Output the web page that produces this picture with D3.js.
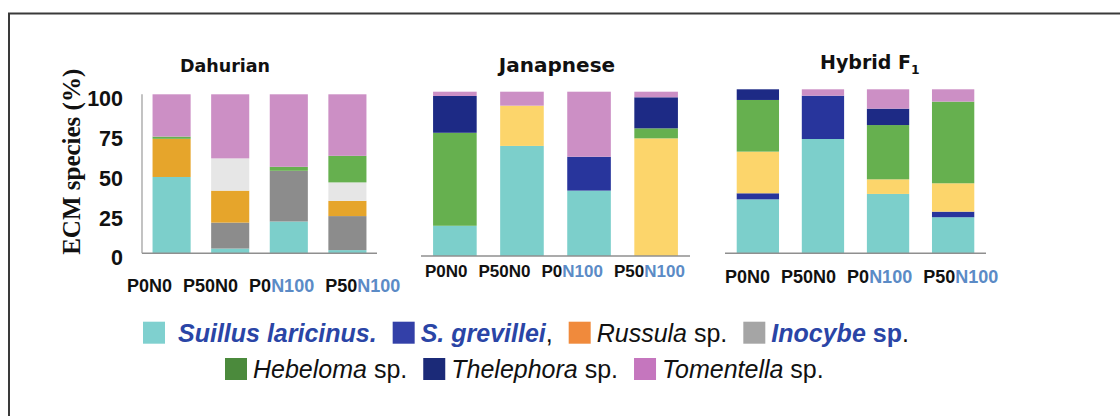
<!DOCTYPE html>
<html>
<head>
<meta charset="utf-8">
<script src="https://cdn.jsdelivr.net/npm/d3@7"></script>
<style>
  body { margin: 0; background: #fff; }
  svg { display: block; }
</style>
</head>
<body>
<div id="chart"></div>
<script>
const treatments = ["P0N0", "P50N0", "P0N100", "P50N100"];
const species = ["Suillus laricinus", "S. grevillei", "Inocybe", "Russula", "Other", "Hebeloma", "Thelephora", "Tomentella"];

// rows = treatments, columns = species (ECM species %)
const dahurian = [
  [48, 0, 0, 24, 0, 1.4, 0, 26.6],
  [3, 0, 16.3, 20.1, 20.3, 0, 0, 40.3],
  [20, 0, 31.9, 0, 0, 2.5, 0, 45.6],
  [2, 0, 21.4, 9.6, 11.6, 16.7, 0, 38.7]
];
const janapnese = [
  [18.4, 0, 0, 0, 0, 56.6, 22.4, 2.6],
  [67, 0, 0, 24.5, 0, 0, 0, 8.5],
  [39.8, 20.6, 0, 0, 0, 0, 0, 39.6],
  [0, 0, 0, 71.6, 0, 6.1, 18.9, 3.4]
];
const hybrid = [
  [32.9, 3.7, 0, 25.4, 0, 31.5, 6.5, 0],
  [69.7, 26.4, 0, 0, 0, 0, 0, 3.9],
  [36.2, 0, 0, 8.9, 0, 33.1, 10, 11.8],
  [22, 3.4, 0, 17.3, 0, 49.8, 0, 7.5]
];
const yTicks = [0, 25, 50, 75, 100];

// legend: each entry is a list of text pieces
const legendEntries = [
  ["Suillus laricinus."],
  ["S. grevillei", ","],
  ["Russula", " sp."],
  ["Inocybe", " sp", "."],
  ["Hebeloma", " sp."],
  ["Thelephora", " sp."],
  ["Tomentella", " sp."]
];

const W = 1120, H = 416;
const barColors = ["#7ccfcb", "#28359c", "#8c8c8c", "#fcd56b", "#e6e6e6", "#66b04f", "#1d2a85", "#cc8fc5"];
const color = d3.scaleOrdinal().domain(d3.range(species.length)).range(barColors);
const legendColors = ["#7fd0cf", "#3340a8", "#f08a3c", "#a5a5a5", "#4b8a3c", "#1b2a78", "#c576be"];
const blue = "#2a45a6";
const sans = "'Liberation Sans', Arial, sans-serif";

const svg = d3.select("#chart").append("svg").attr("width", W).attr("height", H);

// frame
svg.append("path").attr("d", `M9,${H} V13.5 H${W}`).attr("fill", "none").attr("stroke", "#3a3a3a").attr("stroke-width", 2);

const panels = [
  { title: "Dahurian", sub: "", data: dahurian, x: [142, 377], y: [253.3, 94.3], tx: 225, ty: 72, ts: 17.5,
    lx: 127, ly: 291.5, ls: 18, russula: "#e6a52b", yaxis: true, clip: 403 },
  { title: "Janapnese", sub: "", data: janapnese, x: [421, 690], y: [256, 91.7], tx: 557, ty: 71.5, ts: 20,
    lx: 425, ly: 277, ls: 17 },
  { title: "Hybrid F", sub: "1", data: hybrid, x: [725, 986], y: [253.3, 89.3], tx: 820, ty: 68.5, ts: 19,
    lx: 725, ly: 283, ls: 18 }
];

const stack = d3.stack().keys(d3.range(species.length)).value((d, k) => d[k]);

panels.forEach((p, pi) => {
  const g = svg.append("g");
  const x = d3.scaleBand().domain(treatments).range(p.x).paddingInner(0.35).paddingOuter(0.18);
  const y = d3.scaleLinear().domain([0, 100]).range(p.y);
  const series = stack(p.data);

  g.selectAll("g.s")
    .data(series)
    .join("g")
      .attr("fill", d => (d.key === 3 && p.russula) ? p.russula : color(d.key))
    .selectAll("rect")
    .data(d => d.map((v, i) => ({ v, t: treatments[i] })))
    .join("rect")
      .attr("x", d => x(d.t))
      .attr("width", x.bandwidth())
      .attr("y", d => y(d.v[1]))
      .attr("height", d => y(d.v[0]) - y(d.v[1]));

  // axis lines
  g.append("line").attr("x1", p.x[0]).attr("x2", p.x[1]).attr("y1", y(0)).attr("y2", y(0))
    .attr("stroke", "#8f8f8f").attr("stroke-width", 1.5);
  if (p.yaxis) {
    g.append("line").attr("x1", p.x[0]).attr("x2", p.x[0]).attr("y1", y(0)).attr("y2", y(100))
      .attr("stroke", "#9a9a9a").attr("stroke-width", 1.2);
    g.selectAll("text.tick")
      .data(yTicks)
      .join("text")
        .attr("class", "tick")
        .attr("x", 123)
        .attr("y", d => y(d) + 5)
        .attr("text-anchor", "end")
        .attr("dominant-baseline", "central")
        .attr("font-family", sans)
        .attr("font-weight", "bold")
        .attr("font-size", 21.5)
        .attr("fill", "#111")
        .text(d => d);
    svg.append("text")
      .attr("transform", `translate(71,${(y(0) + y(100)) / 2 - 12}) rotate(-90)`)
      .attr("text-anchor", "middle")
      .attr("dominant-baseline", "central")
      .attr("font-family", "'Liberation Serif', 'Times New Roman', serif")
      .attr("font-weight", "bold")
      .attr("font-size", 25)
      .attr("fill", "#111")
      .text("ECM species (%)");
  }

  // title
  const t = g.append("text")
    .attr("x", p.tx).attr("y", p.ty)
    .attr("text-anchor", p.sub ? "start" : "middle")
    .attr("font-family", "'DejaVu Sans', sans-serif")
    .attr("font-weight", "bold")
    .attr("font-size", p.ts)
    .attr("fill", "#111");
  t.append("tspan").text(p.title);
  if (p.sub) t.append("tspan").attr("font-size", p.ts * 0.65).attr("dy", 5).text(p.sub);

  // treatment labels, laid out one after another
  let lg = g.append("g");
  if (p.clip) {
    svg.append("clipPath").attr("id", "clip" + pi)
      .append("rect").attr("x", 0).attr("y", 0).attr("width", p.clip).attr("height", H);
    lg.attr("clip-path", `url(#clip${pi})`);
  }
  let cx = p.lx;
  treatments.forEach(tr => {
    const m = tr.match(/^(P\d+)(N\d+)$/);
    const tt = lg.append("text").attr("x", cx).attr("y", p.ly)
      .attr("font-family", sans).attr("font-weight", "bold").attr("font-size", p.ls).attr("fill", "#111");
    tt.append("tspan").text(m[1]);
    tt.append("tspan").attr("fill", m[2] === "N100" ? "#5b8bc6" : "#111").text(m[2]);
    cx += tt.node().getComputedTextLength() + 11;
  });
});

// legend
const rows = [{ items: [0, 1, 2, 3], x: 143, y: 341.7 }, { items: [4, 5, 6], x: 225, y: 378 }];
const pieceStyle = (ei, pi) => {
  const emph = [0, 1, 3].includes(ei);
  if (pi === 0) return { fill: emph ? blue : "#111", bold: emph, italic: true };
  if (ei === 3 && pi === 1) return { fill: blue, bold: true, italic: false };
  return { fill: "#111", bold: false, italic: false };
};
const leg = svg.append("g");
rows.forEach(r => {
  let cx = r.x;
  r.items.forEach(ei => {
    leg.append("rect").attr("x", cx).attr("y", r.y - 20).attr("width", 22).attr("height", 22)
      .attr("fill", legendColors[ei]);
    cx += 22 + (ei === 0 ? 13 : 6);
    const tx = leg.append("text").attr("x", cx).attr("y", r.y)
      .attr("font-family", sans).attr("font-size", 25).attr("xml:space", "preserve");
    legendEntries[ei].forEach((s, pi) => {
      const st = pieceStyle(ei, pi);
      tx.append("tspan").attr("fill", st.fill)
        .attr("font-weight", st.bold ? "bold" : "normal")
        .attr("font-style", st.italic ? "italic" : "normal")
        .text(s);
    });
    cx += tx.node().getComputedTextLength() + 16;
  });
});
</script>
</body>
</html>
